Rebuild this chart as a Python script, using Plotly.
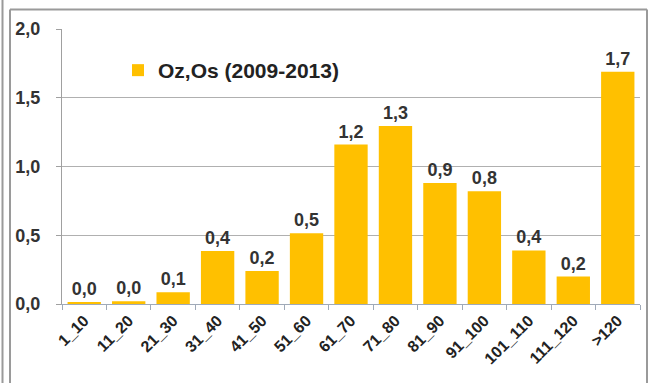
import plotly.graph_objects as go

categories = ["1_10", "11_20", "21_30", "31_40", "41_50", "51_60", "61_70",
              "71_80", "81_90", "91_100", "101_110", "111_120", ">120"]
values = [0.01, 0.02, 0.085, 0.385, 0.24, 0.515, 1.16, 1.295, 0.88, 0.82, 0.39, 0.2, 1.69]
labels = ["0,0", "0,0", "0,1", "0,4", "0,2", "0,5", "1,2", "1,3", "0,9", "0,8", "0,4", "0,2", "1,7"]
series_name = "Oz,Os (2009-2013)"
y_ticks = [0, 0.5, 1.0, 1.5, 2.0]

W, H = 657, 383
L, R, T, B = 62, 640, 29, 304

def px(x):
    return (x - L) / (R - L)

def py(y):
    return (B - y) / (B - T)

fig = go.Figure()
fig.add_trace(go.Bar(
    x=categories, y=values, name=series_name,
    marker=dict(color="#FFC000", line=dict(width=0)),
    text=labels, textposition="outside", cliponaxis=False,
    textfont=dict(family="Liberation Sans", size=18, color="#333333", weight="bold"),
    showlegend=True,
))

frame = "#9a9a9a"
shapes = [
    dict(type="line", xref="paper", yref="paper", x0=px(2.5), x1=px(2.5), y0=py(0), y1=py(H), line=dict(color=frame, width=2)),
    dict(type="line", xref="paper", yref="paper", x0=px(10), x1=px(10), y0=py(9.5), y1=py(H), line=dict(color=frame, width=2)),
    dict(type="line", xref="paper", yref="paper", x0=px(10), x1=px(647), y0=py(9.5), y1=py(9.5), line=dict(color=frame, width=2)),
    dict(type="line", xref="paper", yref="paper", x0=px(647), x1=px(647), y0=py(9.5), y1=py(H), line=dict(color=frame, width=2)),
]

fig.update_layout(
    width=W, height=H,
    margin=dict(l=L, r=W - R, t=T, b=H - B, autoexpand=False),
    paper_bgcolor="white", plot_bgcolor="white",
    separators=", ",
    bargap=0.25,
    font=dict(family="Liberation Sans", color="#333333"),
    shapes=shapes,
    showlegend=True,
    legend=dict(x=px(118), y=py(50), xanchor="left", yanchor="top",
                bgcolor="rgba(0,0,0,0)",
                font=dict(family="Liberation Sans", size=21, color="#222222", weight="bold"),
                itemwidth=30),
    xaxis=dict(
        automargin=False,
        tickangle=-45, tickson="boundaries", ticks="outside", ticklen=5,
        tickcolor="#a0aab8", showline=True, linecolor="#a0aab8", linewidth=1,
        tickfont=dict(family="Liberation Sans", size=16, color="#222222", weight="bold"),
        showgrid=False,
    ),
    yaxis=dict(
        automargin=False,
        range=[0, 2], tickvals=y_ticks, tickformat=".1f",
        ticks="outside", ticklen=5, tickcolor="#a0a0a0",
        showline=True, linecolor="#a0a0a0", linewidth=1,
        gridcolor="#b0b0b0", gridwidth=1, zeroline=False,
        tickfont=dict(family="Liberation Sans", size=18, color="#333333", weight="bold"),
        ticklabelstandoff=12,
    ),
)

fig.write_html("out.html", config={"displayModeBar": False},
               post_script="document.body.style.margin='0';document.body.style.overflow='hidden';")
